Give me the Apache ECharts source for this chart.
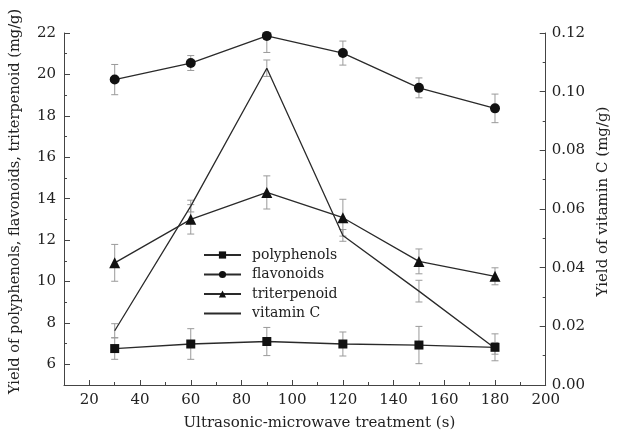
<!DOCTYPE html>
<html>
<head>
<meta charset="utf-8">
<script src="https://cdn.jsdelivr.net/npm/echarts@6/dist/echarts.min.js"></script>
<style>
html,body{margin:0;padding:0;background:#fff;}
#chart{width:619px;height:436px;}
</style>
</head>
<body>
<div id="chart"></div>
<script>
// ---- data ----
const xValues = [30, 60, 90, 120, 150, 180];
const polyphenols = [6.76, 6.98, 7.10, 6.98, 6.93, 6.82];
const polyphenolsErr = [0.52, 0.74, 0.68, 0.58, 0.90, 0.65];
const flavonoids = [19.75, 20.55, 21.86, 21.03, 19.35, 18.36];
const flavonoidsErr = [0.73, 0.36, 0.80, 0.58, 0.48, 0.69];
const triterpenoid = [10.90, 13.00, 14.30, 13.08, 10.97, 10.25];
const triterpenoidErr = [0.89, 0.71, 0.80, 0.89, 0.60, 0.41];
const vitaminC = [0.0185, 0.061, 0.108, 0.051, 0.032, 0.0125];
const vitaminCErr = [0.0024, 0.002, 0.0028, 0.002, 0.0037, 0.002];

const xMajorTicks = [20, 40, 60, 80, 100, 120, 140, 160, 180, 200];
const xMinorTicks = [10, 30, 50, 70, 90, 110, 130, 150, 170, 190];
const leftMajorTicks = [6, 8, 10, 12, 14, 16, 18, 20, 22];
const leftMinorTicks = [5, 7, 9, 11, 13, 15, 17, 19, 21];

const FONT = 'DejaVu Serif';
const TXT = '#222';
const AX = '#444';

function pairs(vals) { return xValues.map((x, i) => [x, vals[i]]); }
function errData(vals, errs) { return xValues.map((x, i) => [x, vals[i], errs[i]]); }

function errSeries(vals, errs, yIdx) {
  return {
    type: 'custom',
    xAxisIndex: 0,
    yAxisIndex: yIdx,
    clip: true,
    silent: true,
    z: 1,
    data: errData(vals, errs),
    renderItem: function (params, api) {
      const x = api.value(0), v = api.value(1), e = api.value(2);
      const top = api.coord([x, v + e]);
      const bot = api.coord([x, v - e]);
      const hw = 3.5;
      const style = { stroke: '#9a9a9a', lineWidth: 1, fill: null };
      return {
        type: 'group',
        children: [
          { type: 'line', shape: { x1: top[0], y1: top[1], x2: bot[0], y2: bot[1] }, style: style },
          { type: 'line', shape: { x1: top[0] - hw, y1: top[1], x2: top[0] + hw, y2: top[1] }, style: style },
          { type: 'line', shape: { x1: bot[0] - hw, y1: bot[1], x2: bot[0] + hw, y2: bot[1] }, style: style }
        ]
      };
    }
  };
}

function lineSeries(name, vals, symbol, size, yIdx) {
  return {
    name: name,
    type: 'line',
    xAxisIndex: 0,
    yAxisIndex: yIdx,
    data: pairs(vals),
    symbol: symbol,
    symbolSize: size,
    z: 3,
    lineStyle: { color: '#2a2a2a', width: 1.3 },
    itemStyle: { color: '#111', borderWidth: 0 },
    emphasis: { disabled: true },
    animation: false
  };
}

const chart = echarts.init(document.getElementById('chart'), null, { renderer: 'canvas' });
chart.setOption({
  backgroundColor: '#fff',
  animation: false,
  grid: { left: 61, right: 66, top: 33, bottom: 48 },
  legend: {
    orient: 'vertical',
    left: 198,
    top: 243,
    itemWidth: 37,
    itemHeight: 9,
    itemGap: 5.5,
    textStyle: { fontFamily: FONT, fontSize: 14, color: TXT, padding: [0, 0, 0, 6] },
    data: [
      'polyphenols', 'flavonoids', 'triterpenoid',
      { name: 'vitamin C', itemStyle: { opacity: 0 } }
    ]
  },
  xAxis: [
    {
      type: 'value', min: 10, max: 200,
      name: 'Ultrasonic-microwave treatment (s)',
      nameLocation: 'middle', nameGap: 31,
      nameTextStyle: { fontFamily: FONT, fontSize: 15, color: TXT, padding: [0, 0, 0, 29] },
      axisLine: { show: true, onZero: false, lineStyle: { color: AX, width: 1 } },
      axisTick: { show: true, inside: true, length: 5, customValues: xMajorTicks, lineStyle: { color: AX } },
      axisLabel: { customValues: xMajorTicks, margin: 8, fontFamily: FONT, fontSize: 15, color: TXT },
      splitLine: { show: false }
    },
    {
      type: 'value', min: 10, max: 200, position: 'bottom',
      axisLine: { show: false, onZero: false },
      axisTick: { show: true, inside: true, length: 3, customValues: xMinorTicks, lineStyle: { color: AX } },
      axisLabel: { show: false },
      splitLine: { show: false }
    }
  ],
  yAxis: [
    {
      type: 'value', min: 5, max: 22, position: 'left',
      name: 'Yield of polyphenols, flavonoids, triterpenoid (mg/g)',
      nameLocation: 'middle', nameGap: 41,
      nameTextStyle: { fontFamily: FONT, fontSize: 14.6, color: TXT, padding: [0, 0, 0, 15] },
      axisLine: { show: true, onZero: false, lineStyle: { color: AX, width: 1 } },
      axisTick: { show: true, inside: true, length: 6, customValues: leftMajorTicks, lineStyle: { color: AX } },
      axisLabel: { customValues: leftMajorTicks, margin: 8, fontFamily: FONT, fontSize: 15, color: TXT },
      splitLine: { show: false }
    },
    {
      type: 'value', min: 5, max: 22, position: 'left',
      axisLine: { show: false, onZero: false },
      axisTick: { show: true, inside: true, length: 3, customValues: leftMinorTicks, lineStyle: { color: AX } },
      axisLabel: { show: false },
      splitLine: { show: false }
    },
    {
      type: 'value', min: 0, max: 0.12, interval: 0.02, position: 'right',
      name: 'Yield of vitamin C (mg/g)',
      nameLocation: 'middle', nameGap: 50,
      nameTextStyle: { fontFamily: FONT, fontSize: 15, color: TXT, padding: [0, 0, 0, 15] },
      axisLine: { show: true, onZero: false, lineStyle: { color: AX, width: 1 } },
      axisTick: { show: true, inside: true, length: 6, lineStyle: { color: AX } },
      minorTick: { show: true, splitNumber: 2, length: 3, lineStyle: { color: AX } },
      axisLabel: { margin: 6, fontFamily: FONT, fontSize: 15, color: TXT, formatter: v => v.toFixed(2) },
      splitLine: { show: false },
      minorSplitLine: { show: false }
    }
  ],
  series: [
    errSeries(polyphenols, polyphenolsErr, 0),
    errSeries(flavonoids, flavonoidsErr, 0),
    errSeries(triterpenoid, triterpenoidErr, 0),
    errSeries(vitaminC, vitaminCErr, 2),
    lineSeries('polyphenols', polyphenols, 'rect', 9, 0),
    lineSeries('flavonoids', flavonoids, 'circle', 10, 0),
    lineSeries('triterpenoid', triterpenoid, 'triangle', 11, 0),
    lineSeries('vitamin C', vitaminC, 'none', 0, 2)
  ]
});
</script>
</body>
</html>
